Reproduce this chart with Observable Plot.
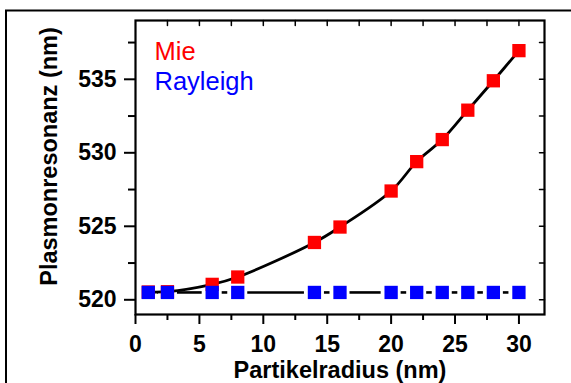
<!DOCTYPE html>
<html>
<head>
<meta charset="utf-8">
<script src="https://cdn.jsdelivr.net/npm/d3@7"></script>
<script src="https://cdn.jsdelivr.net/npm/@observablehq/plot@0.6"></script>
<style>
  html, body { margin: 0; padding: 0; background: #fff; }
</style>
</head>
<body>
<div id="chart"></div>
<script>
// ---- data ----
const radius = [1, 2.5, 6, 8, 14, 16, 20, 22, 24, 26, 28, 30];
const mie = [520.53, 520.55, 521.05, 521.55, 523.9, 524.95, 527.4, 529.4, 530.9, 532.9, 534.9, 536.95];
const rayleigh = [520.5, 520.5, 520.5, 520.5, 520.5, 520.5, 520.5, 520.5, 520.5, 520.5, 520.5, 520.5];
const seriesNames = ["Mie", "Rayleigh"];
const seriesColors = ["#ff0000", "#0000ff"];
const xMajor = [0, 5, 10, 15, 20, 25, 30];
const xMinor = [2.5, 7.5, 12.5, 17.5, 22.5, 27.5];
const yMajor = [520, 525, 530, 535];
const yMinor = [522.5, 527.5, 532.5, 537.5];
const xTopTicks = [2.5, 5, 7.5, 10, 12.5, 15, 17.5, 20, 22.5, 25, 27.5, 30];
const yRightTicks = [520, 522.5, 525, 527.5, 530, 532.5, 535, 537.5];
const xDomain = [0, 32];
const yDomain = [519, 539];
const xLabel = "Partikelradius (nm)";
const yLabel = "Plasmonresonanz (nm)";

// ---- tables ----
const mieData = radius.map((r, i) => ({x: r, y: mie[i]}));
const rayData = radius.map((r, i) => ({x: r, y: rayleigh[i]}));
const raySegs = rayData.slice(1).map((d, i) => ({x1: rayData[i].x, x2: d.x, y: d.y}));

const tickShape = {draw(context, l) { context.moveTo(0, 0); context.lineTo(0, -l); }};
const font = "Liberation Sans, Arial, sans-serif";

const chart = Plot.plot({
  width: 571,
  height: 383,
  marginLeft: 135,
  marginTop: 20,
  marginRight: 27,
  marginBottom: 69,
  style: {fontFamily: font, color: "black", background: "white", overflow: "visible"},
  x: {domain: xDomain},
  y: {domain: yDomain},
  marks: [
    Plot.line(mieData, {x: "x", y: "y", curve: "catmull-rom", stroke: "black", strokeWidth: 2.8}),
    Plot.ruleY(raySegs, {y: "y", x1: "x1", x2: "x2", insetLeft: 10, insetRight: 10, stroke: "black", strokeWidth: 2.6}),
    Plot.dot(mieData, {x: "x", y: "y", symbol: "square", r: 7.5, fill: seriesColors[0], stroke: null}),
    Plot.dot(rayData, {x: "x", y: "y", symbol: "square", r: 7.5, fill: seriesColors[1], stroke: null}),
    Plot.frame({stroke: "black", strokeWidth: 2.2}),
    Plot.axisX(xMajor, {tickSize: 10, tickPadding: 11, fontSize: 23, fontWeight: "bold", strokeWidth: 2, label: null}),
    Plot.axisX(xMinor, {tickSize: 6, tickFormat: () => "", strokeWidth: 2, label: null}),
    Plot.axisY(yMajor, {tickSize: 11, tickPadding: 8, fontSize: 23, fontWeight: "bold", strokeWidth: 2, label: null}),
    Plot.axisY(yMinor, {tickSize: 7, tickFormat: () => "", strokeWidth: 2, label: null}),
    Plot.vector(xTopTicks, {x: d => d, y: yDomain[1], length: 5, rotate: 180, anchor: "start", shape: tickShape, stroke: "black", strokeWidth: 1.5}),
    Plot.vector(yRightTicks, {x: xDomain[1], y: d => d, length: 5, rotate: -90, anchor: "start", shape: tickShape, stroke: "black", strokeWidth: 1.5}),
    Plot.text([xLabel], {text: d => d, frameAnchor: "bottom", lineAnchor: "top", dy: 47, fontSize: 23.5, fontWeight: "bold", fill: "black"}),
    Plot.text([yLabel], {text: d => d, frameAnchor: "left", rotate: -90, textAnchor: "middle", lineAnchor: "middle", dx: -86, dy: -11, fontSize: 23.5, fontWeight: "bold", fill: "black"}),
    Plot.text([seriesNames[0]], {text: d => d, frameAnchor: "top-left", textAnchor: "start", lineAnchor: "bottom", dx: 19, dy: 39, fontSize: 25.5, fill: seriesColors[0]}),
    Plot.text([seriesNames[1]], {text: d => d, frameAnchor: "top-left", textAnchor: "start", lineAnchor: "bottom", dx: 19, dy: 69.5, fontSize: 25.5, fill: seriesColors[1]})
  ]
});

d3.select(chart).insert("rect", ":first-child")
  .attr("x", 6).attr("y", 10.5).attr("width", 580).attr("height", 390)
  .attr("fill", "none").attr("stroke", "black").attr("stroke-width", 2);

document.getElementById("chart").appendChild(chart);
</script>
</body>
</html>
